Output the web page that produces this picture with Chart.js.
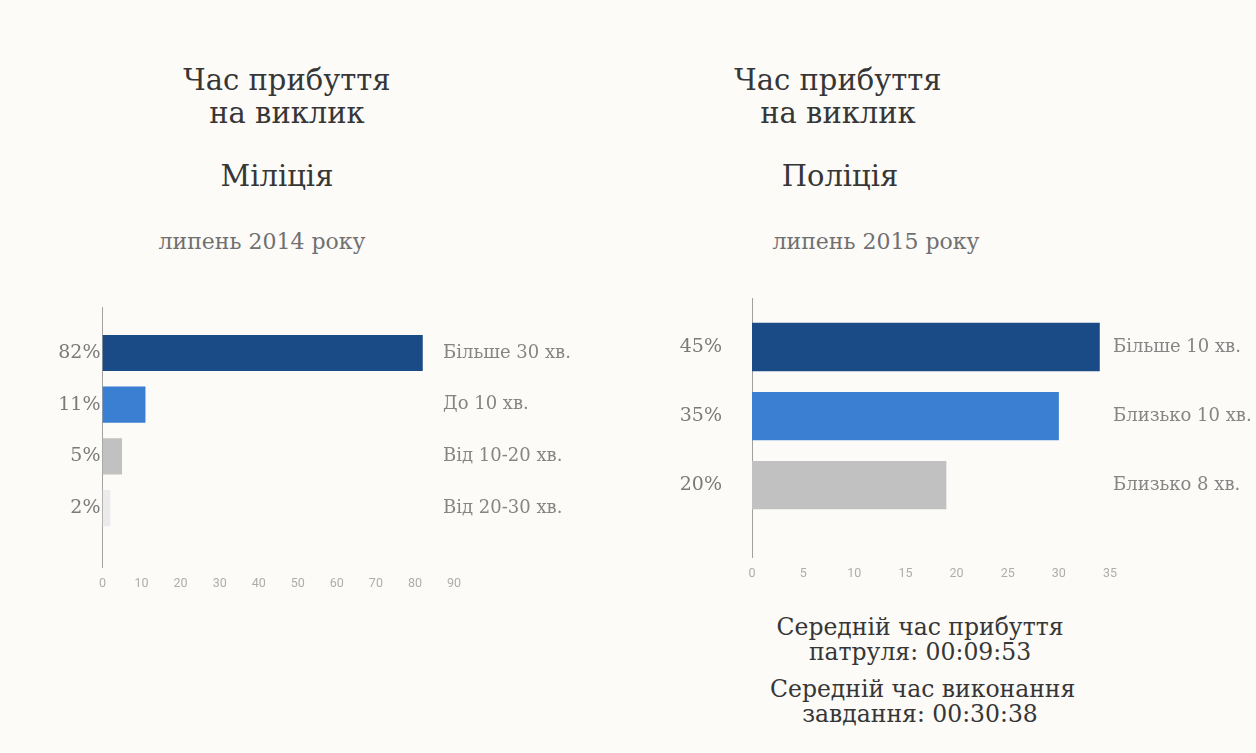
<!DOCTYPE html>
<html>
<head>
<meta charset="utf-8">
<script src="https://cdn.jsdelivr.net/npm/chart.js@4/dist/chart.umd.min.js"></script>
<style>
  html, body { margin:0; padding:0; background:#fcfbf8; }
  body { width:1256px; height:753px; position:relative; overflow:hidden; font-family:"DejaVu Serif", serif; }
  .t { position:absolute; text-align:center; white-space:nowrap; }
  .title { color:#363636; font-size:29px; line-height:33px; }
  .sub { color:#707070; font-size:22px; line-height:28px; }
  .note { color:#363636; font-size:23.5px; line-height:25px; }
  .box { position:absolute; }
</style>
</head>
<body>
<div class="t title" style="left:137px;width:300px;top:64px;">Час прибуття<br>на виклик</div>
<div class="t title" style="left:127px;width:300px;top:160px;">Міліція</div>
<div class="t sub" style="left:112px;width:300px;top:228px;">липень 2014 року</div>

<div class="t title" style="left:688px;width:300px;top:64px;">Час прибуття<br>на виклик</div>
<div class="t title" style="left:690px;width:300px;top:160px;">Поліція</div>
<div class="t sub" style="left:726px;width:300px;top:228px;">липень 2015 року</div>

<div class="t note" style="left:770px;width:300px;top:615px;">Середній час прибуття<br>патруля: 00:09:53</div>
<div class="t note" style="left:770px;width:300px;top:677px;">Середній час виконання<br>завдання: 00:30:38</div>

<div class="box" style="left:0;top:280px;width:628px;height:330px;"><canvas id="c1"></canvas></div>
<div class="box" style="left:628px;top:270px;width:628px;height:330px;"><canvas id="c2"></canvas></div>

<script>
// ---- data ----
const militsiaCategories = ['Більше 30 хв.', 'До 10 хв.', 'Від 10-20 хв.', 'Від 20-30 хв.'];
const militsiaValues = [82, 11, 5, 2];
const militsiaPctLabels = ['82%', '11%', '5%', '2%'];
const militsiaColors = ['#1b4b86', '#3a7fd2', '#c1c1c1', '#ebebeb'];

const politsiaCategories = ['Більше 10 хв.', 'Близько 10 хв.', 'Близько 8 хв.'];
const politsiaValues = [34, 30, 19];
const politsiaPctLabels = ['45%', '35%', '20%'];
const politsiaColors = ['#1b4b86', '#3a7fd2', '#c1c1c1'];

Chart.defaults.animation = false;

// category names drawn to the right of the plot, at the y-scale position of each bar
const sideLabels = {
  id: 'sideLabels',
  afterDraw(chart, args, opts) {
    const { ctx, chartArea, scales } = chart;
    ctx.save();
    ctx.font = opts.font;
    ctx.fillStyle = opts.color;
    ctx.textAlign = 'left';
    ctx.textBaseline = 'middle';
    opts.labels.forEach((t, i) => {
      ctx.fillText(t, chartArea.right + opts.offset, scales.y.getPixelForValue(i));
    });
    ctx.restore();
  }
};

function makeChart(id, cats, vals, pcts, colors, cfg) {
  return new Chart(document.getElementById(id), {
    type: 'bar',
    data: {
      datasets: [{
        data: vals.map((v, i) => ({ x: v, y: i })),
        backgroundColor: colors,
        borderWidth: 0,
        barPercentage: 0.7,
        categoryPercentage: 1.0
      }]
    },
    plugins: [sideLabels],
    options: {
      indexAxis: 'y',
      responsive: true,
      maintainAspectRatio: false,
      layout: { padding: { top: cfg.padTop, bottom: 0, left: 0, right: cfg.rightW } },
      plugins: {
        legend: { display: false },
        tooltip: { enabled: false },
        sideLabels: { labels: cats, offset: cfg.rightPad, font: '18px "DejaVu Serif"', color: '#858585' }
      },
      scales: {
        x: {
          type: 'linear', min: 0, max: cfg.xMax,
          ticks: { stepSize: cfg.xStep, color: '#adadad', font: { family: 'Roboto', size: 12.5 }, padding: 9 },
          grid: { display: false, drawTicks: false },
          border: { display: false },
          afterFit: (s) => { s.height = 43; s.paddingLeft = 0; s.paddingRight = 0; }
        },
        y: {
          type: 'linear', position: 'left', reverse: true, offset: false,
          min: cfg.yMin, max: cfg.yMax,
          afterBuildTicks: (scale) => { scale.ticks = cats.map((_, i) => ({ value: i })); },
          ticks: { callback: (v) => pcts[v], color: '#7a7a7a', font: { family: 'DejaVu Serif', size: 19 }, padding: cfg.leftPad },
          grid: { display: false, drawTicks: false },
          border: { display: true, color: '#a0a0a0', width: 1, dash: [2, 3] },
          afterFit: (s) => { s.width = cfg.leftW; s.paddingTop = 0; s.paddingBottom = 0; }
        }
      }
    }
  });
}

makeChart('c1', militsiaCategories, militsiaValues, militsiaPctLabels, militsiaColors,
  { padTop: 27, xMax: 90, xStep: 10, yMin: -0.89, yMax: 4.14, leftW: 102.5, rightW: 174, leftPad: 2, rightPad: -11 });
makeChart('c2', politsiaCategories, politsiaValues, politsiaPctLabels, politsiaColors,
  { padTop: 28, xMax: 35, xStep: 5, yMin: -0.71, yMax: 3.04, leftW: 124, rightW: 146, leftPad: 30, rightPad: 3 });
</script>
</body>
</html>
